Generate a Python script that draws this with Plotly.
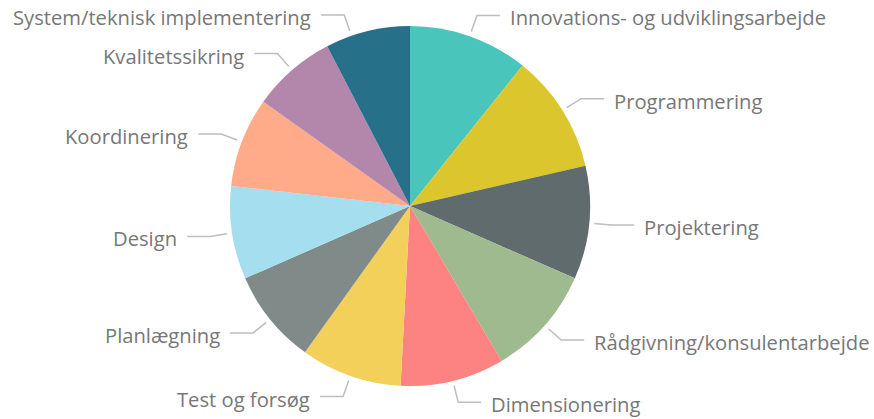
import math
import plotly.graph_objects as go

labels = [
    "Innovations- og udviklingsarbejde",
    "Programmering",
    "Projektering",
    "Rådgivning/konsulentarbejde",
    "Dimensionering",
    "Test og forsøg",
    "Planlægning",
    "Design",
    "Koordinering",
    "Kvalitetssikring",
    "System/teknisk implementering",
]
values = [38.7, 38.4, 36.6, 35.7, 33.6, 32.7, 30.6, 30.1, 29.0, 27.2, 27.4]
colors = [
    "#4AC5BB", "#DBC62E", "#5F6B6D", "#9FBA8E", "#FD8282", "#F3D05A",
    "#7F8A89", "#A5DEEE", "#FFAA88", "#B386AB", "#267189",
]

W, H = 874, 419
CX, CY, R = 410, 206, 180
LINE_START, ELBOW, ARM, GAP, TOP = 185, 202, 23, 8, 15


def px(x):
    return x / W


def py(y):
    return 1 - y / H


fig = go.Figure(go.Pie(
    labels=labels,
    values=values,
    sort=False,
    direction="clockwise",
    rotation=0,
    marker=dict(colors=colors, line=dict(width=0)),
    textinfo="none",
    hoverinfo="label+value",
    showlegend=False,
    domain=dict(x=[px(CX - R), px(CX + R)], y=[py(CY + R), py(CY - R)]),
))

# labels with leader lines, placed at each slice's mid angle
total = sum(values)
cum = 0
for name, v in zip(labels, values):
    theta = math.radians((cum + v / 2) / total * 360)
    cum += v
    s = math.sin(theta)
    c = math.cos(theta)
    ey = CY - ELBOW * c
    if ey < TOP:
        ey = TOP
        c = (CY - TOP) / ELBOW
        s = math.copysign(math.sqrt(1 - c * c), s)
    ex = CX + ELBOW * s
    sx, sy = CX + LINE_START * s, CY - LINE_START * c
    right = s >= 0
    hx = ex + ARM if right else ex - ARM
    fig.add_shape(type="path",
                  path=f"M {px(sx)} {py(sy)} L {px(ex)} {py(ey)} L {px(hx)} {py(ey)}",
                  xref="paper", yref="paper",
                  line=dict(color="#BDBDBD", width=1.5))
    fig.add_annotation(
        text=name,
        x=px(hx + GAP if right else hx - GAP), y=py(ey),
        xref="paper", yref="paper",
        xanchor="left" if right else "right", yanchor="middle",
        yshift=-2,
        showarrow=False,
        font=dict(family="Open Sans", size=20.2, color="#777777"),
    )

fig.update_layout(
    width=W,
    height=H,
    margin=dict(l=0, r=0, t=0, b=0),
    paper_bgcolor="white",
    plot_bgcolor="white",
)

# drop the default body margin so the figure fills the window exactly
fig.write_html("out.html", config={"displayModeBar": False},
               post_script="document.body.style.margin = '0';")
